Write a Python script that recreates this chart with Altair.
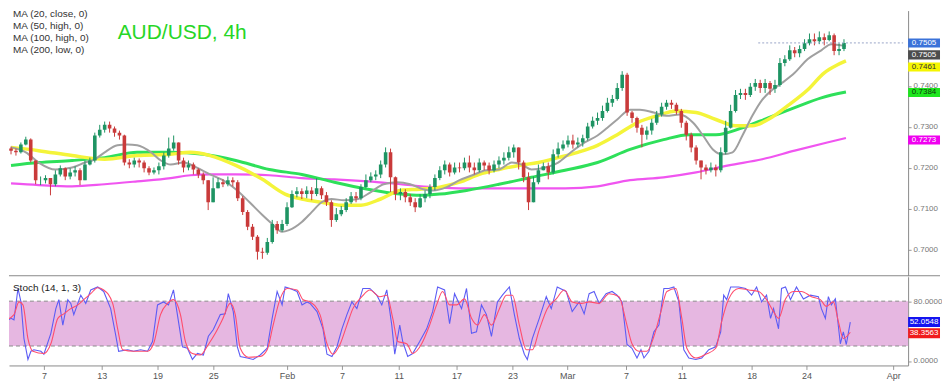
import altair as alt
import pandas as pd

# ---------------- candles (AUD/USD) ----------------
first_open = 0.7247
close = [
    .7242, .7238, .7257, .7269, .7218, .7170, .7170, .7175, .7160, .7184,
    .7199, .7179, .7189, .7194, .7170, .7208, .7218, .7279, .7293, .7305,
    .7296, .7286, .7279, .7213, .7208, .7218, .7213, .7199, .7189, .7194,
    .7204, .7230, .7247, .7262, .7218, .7201, .7208, .7196, .7184, .7170,
    .7116, .7150, .7165, .7160, .7170, .7165, .7126, .7092, .7056, .7032,
    .6995, .6993, .7019, .7063, .7048, .7063, .7104, .7136, .7143, .7136,
    .7145, .7136, .7150, .7133, .7116, .7073, .7087, .7097, .7116, .7131,
    .7126, .7153, .7170, .7179, .7184, .7208, .7238, .7177, .7136, .7141,
    .7128, .7116, .7104, .7126, .7136, .7153, .7175, .7194, .7208, .7189,
    .7201, .7199, .7213, .7201, .7194, .7213, .7206, .7194, .7208, .7218,
    .7225, .7238, .7250, .7213, .7177, .7116, .7165, .7194, .7204, .7189,
    .7233, .7247, .7257, .7267, .7257, .7262, .7272, .7301, .7315, .7322,
    .7339, .7359, .7368, .7395, .7427, .7335, .7322, .7298, .7281, .7291,
    .7310, .7330, .7349, .7359, .7354, .7339, .7310, .7281, .7250, .7218,
    .7201, .7194, .7201, .7194, .7238, .7298, .7339, .7378, .7383, .7378,
    .7398, .7407, .7395, .7407, .7393, .7402, .7456, .7465, .7487, .7480,
    .7490, .7504, .7514, .7509, .7519, .7512, .7524, .7485, .7490, .7505,
]
high = [
    .7252, .7247, .7262, .7276, .7272, .7218, .7179, .7182, .7175, .7194,
    .7206, .7201, .7199, .7204, .7199, .7218, .7225, .7286, .7305, .7313,
    .7313, .7301, .7291, .7281, .7221, .7225, .7223, .7218, .7204, .7201,
    .7213, .7238, .7274, .7279, .7262, .7225, .7218, .7213, .7199, .7189,
    .7170, .7177, .7175, .7172, .7179, .7177, .7170, .7131, .7097, .7063,
    .7036, .7005, .7029, .7073, .7070, .7073, .7116, .7145, .7153, .7150,
    .7155, .7153, .7175, .7155, .7141, .7121, .7102, .7107, .7126, .7141,
    .7141, .7160, .7184, .7189, .7194, .7218, .7250, .7247, .7179, .7150,
    .7148, .7136, .7126, .7136, .7145, .7160, .7184, .7204, .7218, .7213,
    .7213, .7213, .7225, .7230, .7213, .7223, .7218, .7213, .7218, .7228,
    .7238, .7252, .7257, .7250, .7218, .7189, .7179, .7208, .7213, .7213,
    .7245, .7262, .7267, .7279, .7281, .7274, .7281, .7310, .7325, .7335,
    .7352, .7371, .7378, .7407, .7436, .7432, .7339, .7325, .7305, .7301,
    .7320, .7339, .7359, .7366, .7366, .7359, .7344, .7315, .7286, .7255,
    .7218, .7208, .7213, .7208, .7250, .7315, .7354, .7390, .7393, .7393,
    .7407, .7417, .7415, .7417, .7412, .7415, .7468, .7475, .7499, .7495,
    .7499, .7514, .7528, .7528, .7533, .7528, .7533, .7528, .7504, .7514,
]
low = [
    .7233, .7230, .7235, .7255, .7213, .7160, .7158, .7162, .7133, .7155,
    .7179, .7170, .7172, .7179, .7158, .7170, .7206, .7213, .7274, .7286,
    .7286, .7276, .7269, .7206, .7199, .7201, .7201, .7189, .7182, .7184,
    .7184, .7196, .7225, .7242, .7208, .7189, .7194, .7184, .7175, .7160,
    .7097, .7126, .7150, .7153, .7155, .7155, .7119, .7085, .7048, .7024,
    .6976, .6978, .6988, .7015, .7039, .7044, .7058, .7102, .7128, .7124,
    .7126, .7121, .7131, .7124, .7107, .7056, .7068, .7082, .7092, .7112,
    .7116, .7121, .7150, .7165, .7170, .7175, .7201, .7141, .7121, .7121,
    .7116, .7107, .7092, .7102, .7116, .7126, .7145, .7170, .7184, .7179,
    .7184, .7189, .7194, .7189, .7184, .7189, .7194, .7184, .7189, .7199,
    .7208, .7218, .7225, .7196, .7165, .7097, .7116, .7160, .7194, .7172,
    .7184, .7225, .7242, .7250, .7247, .7250, .7252, .7267, .7296, .7305,
    .7315, .7335, .7349, .7364, .7388, .7327, .7310, .7286, .7250, .7269,
    .7281, .7305, .7325, .7342, .7344, .7330, .7298, .7267, .7238, .7208,
    .7172, .7184, .7189, .7179, .7189, .7233, .7296, .7335, .7368, .7366,
    .7373, .7388, .7383, .7383, .7378, .7383, .7398, .7448, .7461, .7470,
    .7470, .7485, .7499, .7499, .7502, .7499, .7509, .7475, .7475, .7485,
]

# ---------------- moving averages (bar index, value) ----------------
ma20_idx = [1.0, 4.0, 6.6, 10.0, 13.4, 16.0, 18.0, 20.0, 22.6, 24.6,
            26.6, 29.4, 31.4, 33.4, 36.0, 38.6, 41.4, 44.0, 46.6, 49.4,
            52.0, 54.0, 56.0, 57.4, 60.0, 62.0, 64.0, 66.0, 68.6, 71.4,
            74.0, 76.6, 79.4, 82.0, 84.6, 86.6, 89.4, 92.0, 94.6, 97.4,
            100.0, 102.6, 104.6, 106.6, 109.4, 112.0, 114.6, 117.4, 120.0, 122.0,
            124.0, 126.6, 128.6, 131.4, 134.0, 136.6, 139.4, 141.4, 143.4, 145.4,
            147.4, 149.4, 151.4, 153.4, 155.4, 157.4, 160.0, 162.6, 165.4, 167.4,
            169.4, 170.4]
ma20 = [.7250, .7238, .7213, .7196, .7201, .7213, .7221, .7238, .7255, .7257,
        .7255, .7238, .7218, .7208, .7213, .7201, .7184, .7170, .7148, .7116,
        .7085, .7063, .7044, .7048, .7068, .7092, .7116, .7124, .7121, .7124,
        .7141, .7160, .7165, .7160, .7148, .7145, .7153, .7170, .7182, .7194,
        .7196, .7213, .7208, .7196, .7201, .7213, .7238, .7262, .7279, .7298,
        .7318, .7342, .7342, .7335, .7327, .7330, .7310, .7279, .7245, .7233,
        .7238, .7279, .7327, .7366, .7390, .7407, .7432, .7465, .7487, .7502,
        .7499, .7497]

ma50_idx = [1.0, 6.6, 13.4, 20.0, 26.6, 33.4, 37.4, 41.4, 46.6, 52.0,
            56.6, 60.0, 64.0, 68.0, 72.0, 76.0, 80.0, 84.0, 88.0, 92.0,
            96.0, 100.0, 104.0, 108.0, 112.0, 116.0, 120.0, 124.0, 128.0, 132.0,
            136.0, 140.0, 144.0, 148.0, 151.4, 154.6, 158.6, 162.6, 166.0, 168.6,
            170.4]
ma50 = [.7250, .7242, .7230, .7221, .7230, .7233, .7238, .7230, .7206, .7172,
        .7136, .7124, .7116, .7109, .7109, .7124, .7145, .7148, .7153, .7165,
        .7184, .7196, .7206, .7213, .7225, .7238, .7255, .7281, .7310, .7327,
        .7339, .7335, .7318, .7303, .7303, .7318, .7352, .7390, .7432, .7451,
        .7461]

ma100_idx = [1.0, 6.6, 13.4, 20.0, 26.6, 33.4, 40.0, 46.6, 53.4, 60.0,
             66.6, 73.4, 80.0, 84.0, 88.0, 93.4, 100.0, 106.6, 113.4, 120.0,
             126.6, 133.4, 138.6, 144.0, 149.4, 154.6, 160.0, 165.4, 170.4]
ma100 = [.7206, .7213, .7218, .7225, .7238, .7238, .7233, .7218, .7196, .7184,
         .7165, .7148, .7136, .7133, .7136, .7145, .7160, .7177, .7194, .7213,
         .7245, .7269, .7281, .7281, .7298, .7322, .7347, .7371, .7385]

ma200_idx = [1.0, 6.6, 13.4, 20.0, 26.6, 33.4, 37.4, 41.4, 46.6, 53.4,
             60.0, 66.6, 73.4, 80.0, 86.6, 93.4, 100.0, 106.6, 113.4, 120.0,
             126.6, 133.4, 140.0, 146.6, 153.4, 160.0, 166.6, 170.4]
ma200 = [.7162, .7158, .7155, .7160, .7167, .7175, .7182, .7184, .7184, .7182,
         .7175, .7172, .7167, .7160, .7153, .7150, .7150, .7150, .7150, .7155,
         .7170, .7177, .7189, .7206, .7221, .7242, .7262, .7273]

# ---------------- stochastic (bar index, value) ----------------
k_idx = [1.0, 2.0, 2.6, 3.4, 4.0, 4.6, 5.4, 6.0, 6.6, 8.0,
         8.6, 10.0, 11.0, 11.6, 12.4, 13.4, 14.0, 14.6, 16.0, 17.0,
         18.0, 19.4, 20.6, 22.0, 23.0, 23.6, 25.4, 26.6, 28.0, 29.4,
         30.4, 31.4, 32.6, 33.6, 34.6, 35.6, 36.4, 37.4, 38.4, 39.4,
         40.6, 41.6, 42.6, 44.0, 45.0, 45.6, 46.6, 47.4, 48.0, 49.4,
         50.6, 52.0, 53.4, 54.4, 55.4, 56.4, 57.0, 58.0, 59.4, 60.4,
         61.4,
         62.0, 63.4, 64.6, 65.4, 66.4, 67.4, 68.4, 69.4, 70.4, 71.4,
         72.6, 74.0, 75.4, 76.4, 77.4, 78.4, 79.0, 80.0, 80.6, 81.6,
         82.6, 84.0, 85.4, 86.6, 87.6, 89.0, 90.0, 91.0, 92.4, 93.4,
         94.4, 95.4, 96.4, 97.4, 98.4, 99.6, 100.6, 102.0, 103.0, 104.0,
         105.0, 105.6, 106.6, 108.0, 109.4, 110.4, 111.6, 113.4, 114.6, 116.0,
         117.0, 118.0, 119.0,
         120.0, 121.4, 122.6, 123.6, 124.6, 125.6, 126.6, 127.6, 128.4, 129.0,
         130.0, 131.0, 132.0, 133.0, 134.0, 135.0, 136.0, 137.0, 138.0, 139.4,
         140.6, 142.0, 143.4, 144.4, 145.0, 145.6, 146.4, 148.0, 149.4, 150.6,
         151.6, 152.6, 153.6, 154.4, 155.0, 156.0, 156.6, 157.4, 158.4, 159.6,
         161.0, 162.4, 164.0, 164.6, 165.4, 166.0, 166.6, 167.4, 168.4, 169.0,
         169.6, 170.4]
k_val = [53, 57, 55, 97, 79, 30, 2, 13, 15, 13,
         9, 37, 70, 82, 48, 82, 77, 62, 88, 77,
         95, 99, 93, 70, 35, 13, 15, 13, 15, 13,
         26, 75, 79, 75, 95, 53, 19, 17, 2, 10,
         8, 33, 42, 62, 63, 90, 66, 19, 6, 4,
         2, 8, 17, 57, 93, 75, 99, 97, 93, 75,
         79,
         77, 66, 43, 9, 6, 19, 43, 62, 79, 70,
         97, 97, 88, 75, 95, 48, 9, 48, 26, 6,
         10, 26, 43, 66, 99, 95, 50, 90, 70, 97,
         37, 39, 75, 62, 33, 79, 88, 99, 62, 30,
         9, 2, 30, 57, 86, 70, 99, 93, 66, 79,
         63, 90, 93,
         77, 90, 93, 88, 79, 22, 17, 4, 15, 4,
         13, 39, 48, 97, 97, 99, 79, 15, 4, 2,
         4, 15, 19, 39, 88, 82, 99, 99, 97, 88,
         99, 79, 88, 57, 70, 43, 97, 99, 82, 99,
         83, 88, 86, 70, 57, 86, 75, 83, 23, 39,
         22, 52.05]

d_idx = [1.0, 2.6, 3.6, 4.4, 5.4, 6.4, 8.6, 10.0, 11.4, 12.6,
         14.0, 15.4, 16.6, 18.0, 19.4, 20.6, 22.4, 23.4, 24.4, 26.6,
         29.4, 30.6, 32.0, 33.4, 34.6, 36.0, 37.0, 38.4, 40.0, 41.6,
         43.0, 44.4, 46.0, 47.0, 48.0, 49.6, 52.0, 53.4, 54.6, 56.0,
         57.4, 59.4, 60.6,
         62.0, 64.0, 65.4, 66.6, 68.0, 69.4, 70.6, 72.4, 74.0, 76.0,
         77.4, 78.6, 79.6, 81.4, 82.6, 84.4, 86.0, 87.4, 88.6, 90.0,
         91.4, 93.0, 94.4, 95.6, 97.0, 98.4, 100.0, 101.4, 102.6, 104.0,
         105.4, 106.6, 108.0, 109.6, 111.4, 113.0, 114.6, 116.4, 118.0,
         120.0, 122.0, 124.0, 125.4, 126.6, 128.0, 129.6, 131.0, 132.4, 133.6,
         135.4, 136.6, 137.6, 139.4, 141.4, 143.4, 144.6, 146.0, 148.0, 150.0,
         152.0, 153.6, 155.0, 156.0, 157.4, 159.0, 160.6, 162.6, 164.4, 165.6,
         167.0, 168.0, 169.0, 170.4]
d_val = [55, 62, 79, 75, 30, 13, 10, 23, 57, 63,
         70, 75, 82, 90, 98, 95, 77, 43, 15, 13,
         13, 23, 62, 77, 82, 62, 26, 10, 8, 22,
         37, 55, 77, 62, 17, 5, 6, 15, 48, 83,
         97, 95, 82,
         79, 62, 23, 9, 22, 48, 70, 86, 95, 86,
         88, 57, 26, 23, 10, 23, 48, 75, 93, 75,
         75, 83, 57, 48, 62, 48, 70, 88, 88, 48,
         15, 15, 42, 70, 83, 95, 79, 77, 79,
         77, 90, 86, 53, 23, 13, 13, 33, 66, 93,
         97, 57, 17, 4, 9, 17, 53, 83, 97, 95,
         93, 82, 66, 57, 83, 93, 93, 86, 82, 73,
         79, 53, 30, 38.36]

# ---------------- axes / labels ----------------
price_ticks = [0.70, 0.71, 0.72, 0.73, 0.74]
stoch_ticks = [0, 80]
stoch_levels = [20, 80]
tick_pos = [8.6, 20.2, 31.4, 42.6, 57.4, 68.4, 79.8, 91.4, 102.6, 113.6, 125.4, 136.6, 150.6, 161.6, 179.0]
tick_lab = ['7', '13', '19', '25', 'Feb', '7', '11', '17', '23', 'Mar', '7', '11', '18', '24', 'Apr']
ma_labels = ['MA (20, close, 0)', 'MA (50, high, 0)', 'MA (100, high, 0)', 'MA (200, low, 0)']
last_close = 0.7505
main_badges = [  # label, price, fill, text colour, vertical nudge (px)
    ('0.7505', 0.7505, '#3b72d9', 'white', 0),
    ('0.7505', 0.7505, '#4d4d4d', 'white', 12),
    ('0.7461', 0.7461, '#f5f500', '#333333', 6),
    ('0.7384', 0.7384, '#1ee61e', '#0b3a0b', 0),
    ('0.7273', 0.7273, '#f000f0', 'white', 2),
]
stoch_badges = [
    ('52.0548', 52.0548, '#1414f0', 'white', 0),
    ('38.3563', 38.3563, '#f01c1c', 'white', 1),
]

# ---------------- build data ----------------
opens = [first_open] + close[:-1]
candles = pd.DataFrame({'k': list(range(1, len(close) + 1)), 'open': opens,
                        'close': close, 'high': high, 'low': low})
candles['high'] = candles[['high', 'open', 'close']].max(axis=1)
candles['low'] = candles[['low', 'open', 'close']].min(axis=1)
candles['dir'] = ['up' if c >= o else 'down' for o, c in zip(candles['open'], candles['close'])]

W, H_MAIN, H_STO = 902, 266, 89
FONT = 'Liberation Sans'
XS = alt.Scale(domain=[1.6, 182], nice=False, zero=False)
YS = alt.Scale(domain=[0.69367, 0.75839], nice=False, zero=False)
SS = alt.Scale(domain=[-6, 112.67], nice=False, zero=False)

ax_common = dict(title=None, grid=False, tickSize=3, tickColor='#999999', domainColor='#8a8a8a',
                 labelColor='#777777', labelFontSize=8, labelPadding=2, labelFont=FONT)
YAX = alt.Axis(orient='right', values=price_ticks, format='.4f', **ax_common)
SAX = alt.Axis(orient='right', values=stoch_ticks, format='.4f', **ax_common)

expr = "''"
for p, l in reversed(list(zip(tick_pos, tick_lab))):
    expr = f"datum.value == {p} ? '{l}' : ({expr})"
XAX = alt.Axis(orient='bottom', values=tick_pos, labelExpr=expr, title=None, grid=False,
               tickSize=4, tickColor='#999999', domainColor='#8a8a8a', labelColor='#555555',
               labelFontSize=9, labelPadding=2, labelFont=FONT)

xm = alt.X('k:Q', scale=XS, axis=None)
xs = alt.X('k:Q', scale=XS, axis=XAX)


def ym(f):
    return alt.Y(f'{f}:Q', scale=YS, axis=YAX)


def ys(f):
    return alt.Y(f'{f}:Q', scale=SS, axis=SAX)


one = pd.DataFrame({'a': [0]})

layers = []
for idx, vals, colr, w in [(ma200_idx, ma200, '#f055f0', 2.2), (ma100_idx, ma100, '#2ee05a', 3),
                           (ma50_idx, ma50, '#f4f43a', 3.5), (ma20_idx, ma20, '#a0a0a0', 2)]:
    df = pd.DataFrame({'k': idx, 'v': vals})
    layers.append(alt.Chart(df).mark_line(color=colr, strokeWidth=w, clip=True,
                                          interpolate='monotone').encode(x=xm, y=ym('v')))

ccol = alt.Color('dir:N', scale=alt.Scale(domain=['up', 'down'], range=['#1e9463', '#c93a3a']), legend=None)
layers.append(alt.Chart(candles).mark_rule(clip=True, strokeWidth=1).encode(
    x=xm, y=ym('low'), y2='high:Q', color=ccol))
layers.append(alt.Chart(candles).mark_bar(size=3.6, clip=True).encode(
    x=xm, y=ym('open'), y2='close:Q', color=ccol))

dot = pd.DataFrame({'k': [152.6], 'k2': [182.0], 'v': [last_close]})
layers.append(alt.Chart(dot).mark_rule(color='#9aa6c8', strokeDash=[2, 2], strokeWidth=1).encode(
    x=xm, x2='k2:Q', y=ym('v')))

for lab, price, fill, tcol, off in main_badges:
    bdf = pd.DataFrame({'lo': [price - 0.0011], 'hi': [price + 0.0011], 'price': [price], 'label': [lab]})
    layers.append(alt.Chart(bdf).mark_rect(color=fill, yOffset=off, y2Offset=off).encode(
        x=alt.value(902), x2=alt.value(934), y=ym('lo'), y2='hi:Q'))
    layers.append(alt.Chart(bdf).mark_text(color=tcol, fontSize=8, align='center', baseline='middle',
                                           dy=off).encode(x=alt.value(918), y=ym('price'), text='label:N'))

for i, lab in enumerate(ma_labels):
    layers.append(alt.Chart(one).mark_text(text=lab, fontSize=10, color='#333333', align='left',
                                           baseline='middle').encode(x=alt.value(4), y=alt.value(3 + 12.3 * i)))
layers.append(alt.Chart(one).mark_text(text='AUD/USD, 4h', fontSize=21, color='#27d627', align='left',
                                       baseline='alphabetic').encode(x=alt.value(109), y=alt.value(29)))
layers.append(alt.Chart(one).mark_rule(color='#8a8a8a', strokeWidth=1).encode(
    x=alt.value(0), x2=alt.value(934), y=alt.value(H_MAIN)))

main = alt.layer(*layers).properties(width=W, height=H_MAIN)

# ---------------- stochastic panel ----------------
sl = []
sl.append(alt.Chart(pd.DataFrame({'lo': [stoch_levels[0]], 'hi': [stoch_levels[1]]})).mark_rect(
    color='#e6b7e1').encode(x=alt.value(0), x2=alt.value(W), y=ys('lo'), y2='hi:Q'))
sl.append(alt.Chart(pd.DataFrame({'v': stoch_levels})).mark_rule(
    color='#8c8c8c', strokeDash=[4, 3], strokeWidth=1).encode(x=alt.value(0), x2=alt.value(W), y=ys('v')))
sl.append(alt.Chart(pd.DataFrame({'k': k_idx, 'v': k_val})).mark_line(
    color='#5c5cf5', strokeWidth=1.1, clip=True).encode(x=xs, y=ys('v')))
sl.append(alt.Chart(pd.DataFrame({'k': d_idx, 'v': d_val})).mark_line(
    color='#ff4d6d', strokeWidth=1.1, clip=True, interpolate='monotone').encode(x=xs, y=ys('v')))
sl.append(alt.Chart(one).mark_text(text='Stoch (14, 1, 3)', fontSize=10, color='#222222', align='left',
                                   baseline='middle').encode(x=alt.value(4), y=alt.value(11)))
for lab, val, fill, tcol, off in stoch_badges:
    bdf = pd.DataFrame({'lo': [val - 6.6], 'hi': [val + 6.6], 'v': [val], 'label': [lab]})
    sl.append(alt.Chart(bdf).mark_rect(color=fill, yOffset=off, y2Offset=off).encode(
        x=alt.value(902), x2=alt.value(934), y=ys('lo'), y2='hi:Q'))
    sl.append(alt.Chart(bdf).mark_text(color=tcol, fontSize=8, align='center', baseline='middle',
                                       dy=off).encode(x=alt.value(918), y=ys('v'), text='label:N'))

stoch = alt.layer(*sl).properties(width=W, height=H_STO)

chart = alt.vconcat(main, stoch, spacing=0, padding=0).configure(font=FONT).configure_view(stroke=None)
chart.save("out.html", embed_options={"renderer": "svg", "actions": False})
